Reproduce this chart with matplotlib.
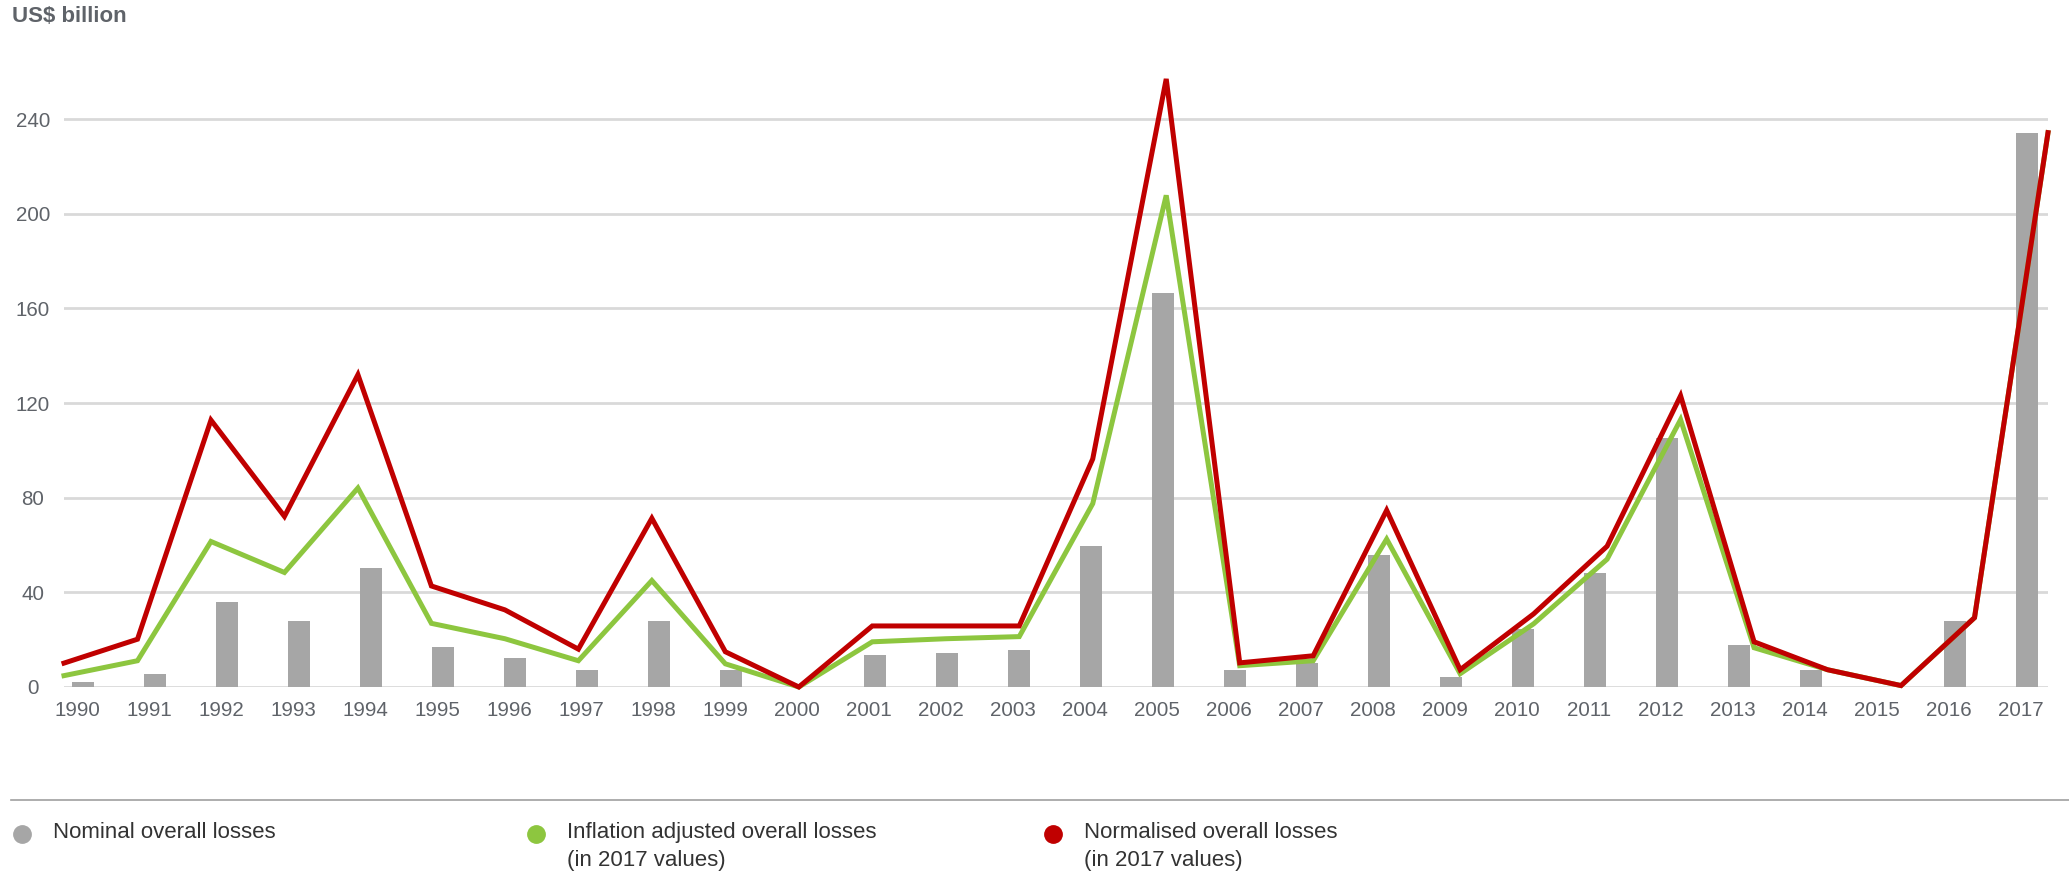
import matplotlib
matplotlib.use('Agg')
import matplotlib.pyplot as plt
from matplotlib.lines import Line2D
from matplotlib.transforms import ScaledTranslation

plt.rcParams['font.family'] = ['Liberation Sans', 'DejaVu Sans']

years = list(range(1990, 2018))
nominal = [2.2, 5.6, 36, 28, 50.5, 17, 12.4, 7, 28, 7, 0, 13.6, 14.5, 15.7,
           59.5, 166.5, 7, 10.2, 56, 4.4, 24.6, 48, 105.4, 17.8, 7, 0, 28, 234.2]
inflation_adj = [4.8, 11.1, 61.5, 48.4, 84.1, 26.9, 20.4, 11.1, 45, 9.8, 0, 19.1,
                 20.4, 21.3, 77.5, 207.8, 9, 11.1, 62.5, 5.6, 26.7, 54, 113, 16.6,
                 7.3, 0.6, 29.3, 234.3]
normalised = [10.1, 20.2, 112.8, 72.1, 132, 42.7, 32.6, 16, 71.3, 14.9, 0, 25.8,
              25.8, 25.8, 96.4, 257, 10.2, 13.2, 74.7, 7.3, 30.9, 59.5, 123.1, 19.1,
              7.3, 0.6, 29.3, 234.3]
y_ticks = [0, 40, 80, 120, 160, 200, 240]

GREY = '#a6a6a6'
GREEN = '#8dc63f'
RED = '#c00000'
TEXT = '#5f6369'

W, H = 2069, 876
fig = plt.figure(figsize=(W / 100, H / 100), dpi=100)
ax = fig.add_axes([64 / W, (H - 687) / H, 1984 / W, 627 / H])

# bars sit in category slots, the lines run edge to edge on their own x scale
pos = list(range(len(years)))
ax.bar(pos, nominal, width=0.306, color=GREY, zorder=2)
ax.set_xlim(-0.264, 27.29)
ax.set_ylim(0, 265)
ax.set_yticks(y_ticks)
ax.grid(axis='y', color='#d9d9d9', linewidth=2.0, zorder=0)
ax.set_axisbelow(True)
for s in ax.spines.values():
    s.set_visible(False)

ax.set_xticks(pos)
ax.set_xticklabels([str(y) for y in years])
ax.tick_params(axis='x', length=0, pad=10, labelsize=14.8, labelcolor=TEXT)
ax.tick_params(axis='y', length=0, pad=22.3, labelsize=14.8, labelcolor=TEXT)
for lab in ax.get_yticklabels():
    lab.set_horizontalalignment('center')
shift = ScaledTranslation(-6 / 100, 0, fig.dpi_scale_trans)
for lab in ax.get_xticklabels():
    lab.set_transform(lab.get_transform() + shift)

ax2 = ax.twiny()
ax2.set_xlim(0, len(years) - 1)
ax2.plot(pos, inflation_adj, color=GREEN, linewidth=3.6,
         solid_joinstyle='miter', clip_on=False, zorder=3)
ax2.plot(pos, normalised, color=RED, linewidth=3.6,
         solid_joinstyle='miter', clip_on=False, zorder=4)
ax2.set_xticks([])
for s in ax2.spines.values():
    s.set_visible(False)

fig.text(12 / W, 1 - 17 / H, 'US$ billion', fontsize=16, fontweight='bold',
         color=TEXT, va='center', ha='left')

# legend below a thin rule
fig.add_artist(Line2D([11 / W, 1], [1 - 800 / H] * 2, transform=fig.transFigure,
                      color='#a0a0a0', linewidth=1.2))
legend_items = [
    ('Nominal overall losses', GREY, 22),
    ('Inflation adjusted overall losses\n(in 2017 values)', GREEN, 536),
    ('Normalised overall losses\n(in 2017 values)', RED, 1053),
]
for label, color, x in legend_items:
    fig.add_artist(Line2D([x / W], [1 - 834 / H], marker='o', markersize=12.5,
                          color=color, linestyle='none', transform=fig.transFigure))
    fig.text((x + 31) / W, 1 - 834 / H, label, fontsize=16, color='#333333',
             va='top', ha='left', linespacing=1.45,
             transform=fig.transFigure + ScaledTranslation(0, 12 / 100, fig.dpi_scale_trans))

fig.savefig('out.png', dpi=100)
